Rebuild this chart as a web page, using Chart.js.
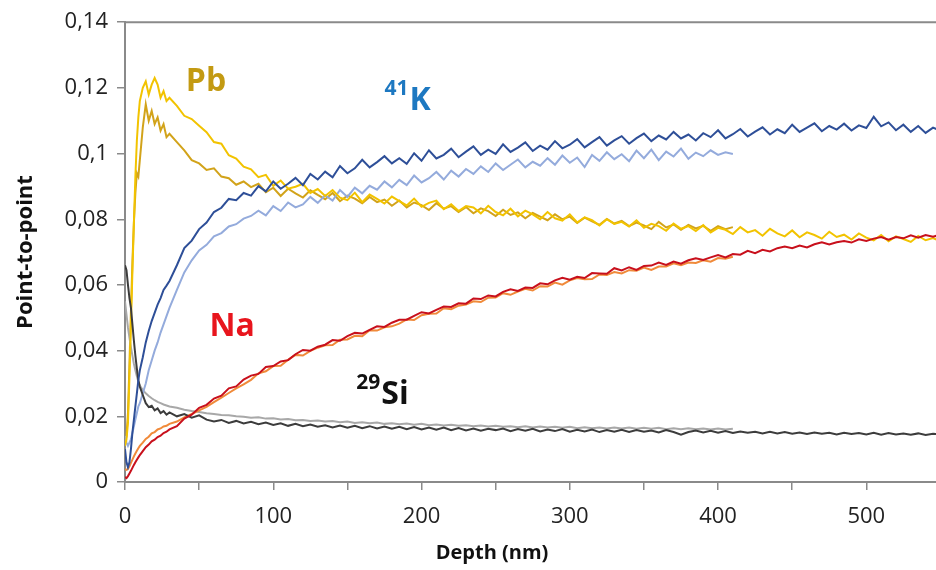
<!DOCTYPE html>
<html>
<head>
<meta charset="utf-8">
<script src="https://cdn.jsdelivr.net/npm/chart.js@4.4.1/dist/chart.umd.min.js"></script>
<style>
  body { margin: 0; background: #fff; }
</style>
</head>
<body>
<canvas id="chart" width="936" height="570"></canvas>
<script>
// depth in nm (fine steps near the surface, then every 5 nm)
const depth = [0, 1, 2, 3, 4, 5, 6, 7, 8, 9, 10, 12, 14, 16, 18, 20, 22, 24, 26, 28, 30,
  35, 40, 45, 50, 55, 60, 65, 70, 75, 80, 85, 90, 95, 100, 105, 110, 115, 120, 125, 130,
  135, 140, 145, 150, 155, 160, 165, 170, 175, 180, 185, 190, 195, 200, 205, 210, 215, 220, 225, 230,
  235, 240, 245, 250, 255, 260, 265, 270, 275, 280, 285, 290, 295, 300, 305, 310, 315, 320, 325, 330,
  335, 340, 345, 350, 355, 360, 365, 370, 375, 380, 385, 390, 395, 400, 405, 410, 415, 420, 425, 430,
  435, 440, 445, 450, 455, 460, 465, 470, 475, 480, 485, 490, 495, 500, 505, 510, 515, 520, 525, 530,
  535, 540, 545, 550];

// point-to-point values
const pbBright = [0.011, 0.013, 0.018, 0.032, 0.048, 0.064, 0.079, 0.093, 0.104, 0.111, 0.116, 0.120, 0.122, 0.118, 0.121, 0.123, 0.121, 0.117, 0.119, 0.116, 0.117,
  0.1145, 0.1115, 0.1105, 0.1085, 0.1065, 0.1035, 0.1030, 0.0995, 0.0985, 0.0960,
  0.0952, 0.0928, 0.0935, 0.0902, 0.0918, 0.0893, 0.0899, 0.0908, 0.0880, 0.0892,
  0.0871, 0.0889, 0.0866, 0.0858, 0.0881, 0.0852, 0.0875, 0.0862, 0.0848, 0.0869,
  0.0855, 0.0842, 0.0863, 0.0838, 0.0850, 0.0857, 0.0831, 0.0846, 0.0825, 0.0840,
  0.0836, 0.0818, 0.0841, 0.0822, 0.0812, 0.0832, 0.0809, 0.0826, 0.0815, 0.0800,
  0.0822, 0.0803, 0.0796, 0.0815, 0.0790, 0.0806, 0.0797, 0.0781, 0.0800, 0.0786,
  0.0792, 0.0778, 0.0797, 0.0774, 0.0786, 0.0779, 0.0765, 0.0787, 0.0771, 0.0779,
  0.0764, 0.0782, 0.0760, 0.0774, 0.0768, 0.0755, 0.0776, 0.0760, 0.0767, 0.0750,
  0.0771, 0.0757, 0.0748, 0.0766, 0.0745, 0.0760, 0.0752, 0.0741, 0.0762, 0.0746,
  0.0753, 0.0738, 0.0757, 0.0744, 0.0736, 0.0752, 0.0733, 0.0748, 0.0740, 0.0731,
  0.0749, 0.0736, 0.0743, 0.0733];

const pbDark = [0.012, 0.014, 0.021, 0.036, 0.052, 0.067, 0.079, 0.088, 0.094, 0.093, 0.098, 0.108, 0.115, 0.110, 0.113, 0.109, 0.111, 0.107, 0.109, 0.105, 0.106,
  0.1035, 0.1010, 0.0980, 0.0970, 0.0950, 0.0955, 0.0930, 0.0925, 0.0905, 0.0915,
  0.0898, 0.0908, 0.0882, 0.0896, 0.0871, 0.0893, 0.0879, 0.0866, 0.0888, 0.0874,
  0.0861, 0.0880, 0.0855, 0.0872, 0.0863, 0.0849, 0.0868, 0.0852, 0.0860, 0.0841,
  0.0857, 0.0836, 0.0851, 0.0843, 0.0828, 0.0849, 0.0832, 0.0840, 0.0822, 0.0837,
  0.0818, 0.0833, 0.0825, 0.0810, 0.0829, 0.0813, 0.0821, 0.0803, 0.0819, 0.0808,
  0.0797, 0.0815, 0.0800, 0.0808, 0.0789, 0.0805, 0.0794, 0.0783, 0.0801, 0.0787,
  0.0795, 0.0779, 0.0790, 0.0781, 0.0770, 0.0792, 0.0775, 0.0784, 0.0768, 0.0783,
  0.0772, 0.0780, 0.0765, 0.0779, 0.0770, 0.0776];

const kDark = [0.0100, 0.0060, 0.0045, 0.0060, 0.0100, 0.0150, 0.0190, 0.0230, 0.0270, 0.0310, 0.0340, 0.0380, 0.0425, 0.0460, 0.0490, 0.0515, 0.0540, 0.0560, 0.0585, 0.0598, 0.0612,
  0.0660, 0.0712, 0.0735, 0.0770, 0.0790, 0.0822, 0.0835, 0.0862, 0.0858, 0.0880,
  0.0872, 0.0901, 0.0885, 0.0915, 0.0893, 0.0908, 0.0926, 0.0904, 0.0938, 0.0921,
  0.0945, 0.0928, 0.0962, 0.0940, 0.0955, 0.0981, 0.0958, 0.0974, 0.0992, 0.0970,
  0.0986, 0.0969, 0.1001, 0.0978, 0.1010, 0.0985, 0.0996, 0.1015, 0.0989, 0.1006,
  0.1022, 0.0996, 0.1012, 0.0999, 0.1028, 0.1005, 0.1018, 0.1034, 0.1008, 0.1024,
  0.1012, 0.1038, 0.1016, 0.1027, 0.1044, 0.1019, 0.1035, 0.1050, 0.1024, 0.1040,
  0.1053, 0.1030, 0.1047, 0.1061, 0.1038, 0.1055, 0.1043, 0.1066, 0.1046, 0.1058,
  0.1040, 0.1062, 0.1050, 0.1071, 0.1046, 0.1059, 0.1075, 0.1052, 0.1067, 0.1080,
  0.1058, 0.1074, 0.1062, 0.1088, 0.1066, 0.1079, 0.1092, 0.1068, 0.1084, 0.1073,
  0.1091, 0.1070, 0.1086, 0.1078, 0.1112, 0.1083, 0.1095, 0.1071, 0.1088, 0.1066,
  0.1084, 0.1063, 0.1079, 0.1070];

const kLight = [0.0140, 0.0120, 0.0110, 0.0120, 0.0130, 0.0150, 0.0170, 0.0190, 0.0210, 0.0230, 0.0240, 0.0270, 0.0300, 0.0340, 0.0370, 0.0400, 0.0425, 0.0455, 0.0480, 0.0505, 0.0530,
  0.0585, 0.0638, 0.0675, 0.0705, 0.0722, 0.0748, 0.0758, 0.0778, 0.0785, 0.0802,
  0.0810, 0.0826, 0.0812, 0.0840, 0.0825, 0.0851, 0.0836, 0.0845, 0.0868, 0.0850,
  0.0873, 0.0857, 0.0889, 0.0868, 0.0896, 0.0879, 0.0902, 0.0890, 0.0915, 0.0897,
  0.0920, 0.0904, 0.0933, 0.0912, 0.0925, 0.0944, 0.0921, 0.0948, 0.0930, 0.0953,
  0.0938, 0.0961, 0.0944, 0.0970, 0.0950, 0.0966, 0.0982, 0.0958, 0.0975, 0.0963,
  0.0986, 0.0966, 0.0994, 0.0972, 0.0988, 0.0959, 0.0996, 0.0978, 0.1004, 0.0983,
  0.0998, 0.0977, 0.1009, 0.0986, 0.1012, 0.0980, 0.1006, 0.0991, 0.1015, 0.0984,
  0.1003, 0.0992, 0.1010, 0.0996, 0.1004, 0.0999];

const naRed = [0.0015, 0.0012, 0.0018, 0.0026, 0.0034, 0.0043, 0.0052, 0.0060, 0.0068, 0.0075, 0.0082, 0.0094, 0.0106, 0.0114, 0.0124, 0.0129, 0.0137, 0.0141, 0.0149, 0.0153, 0.0160,
  0.0170, 0.0193, 0.0205, 0.0226, 0.0235, 0.0254, 0.0263, 0.0285, 0.0291, 0.0312,
  0.0324, 0.0329, 0.0350, 0.0353, 0.0367, 0.0371, 0.0389, 0.0402, 0.0400, 0.0412,
  0.0418, 0.0432, 0.0430, 0.0444, 0.0454, 0.0452, 0.0463, 0.0474, 0.0472, 0.0485,
  0.0494, 0.0494, 0.0506, 0.0517, 0.0513, 0.0524, 0.0534, 0.0533, 0.0544, 0.0543,
  0.0559, 0.0557, 0.0568, 0.0565, 0.0579, 0.0587, 0.0582, 0.0592, 0.0591, 0.0605,
  0.0602, 0.0614, 0.0622, 0.0616, 0.0625, 0.0621, 0.0636, 0.0635, 0.0634, 0.0651,
  0.0644, 0.0654, 0.0646, 0.0658, 0.0659, 0.0668, 0.0661, 0.0671, 0.0665, 0.0675,
  0.0681, 0.0676, 0.0684, 0.0691, 0.0684, 0.0694, 0.0692, 0.0704, 0.0697, 0.0707,
  0.0702, 0.0712, 0.0717, 0.0712, 0.0720, 0.0714, 0.0724, 0.0730, 0.0723, 0.0730,
  0.0734, 0.0729, 0.0739, 0.0734, 0.0741, 0.0746, 0.0738, 0.0746, 0.0742, 0.0751,
  0.0744, 0.0752, 0.0747, 0.0753];

const naOrange = [0.0038, 0.0037, 0.0040, 0.0048, 0.0058, 0.0068, 0.0078, 0.0087, 0.0095, 0.0103, 0.0110, 0.0120, 0.0131, 0.0138, 0.0148, 0.0152, 0.0160, 0.0163, 0.0169, 0.0171, 0.0177,
  0.0184, 0.0197, 0.0207, 0.0218, 0.0229, 0.0243, 0.0257, 0.0271, 0.0285, 0.0297,
  0.0311, 0.0331, 0.0337, 0.0353, 0.0354, 0.0372, 0.0387, 0.0385, 0.0399, 0.0409,
  0.0416, 0.0417, 0.0433, 0.0434, 0.0445, 0.0444, 0.0462, 0.0461, 0.0471, 0.0474,
  0.0482, 0.0495, 0.0493, 0.0508, 0.0512, 0.0513, 0.0529, 0.0526, 0.0537, 0.0540,
  0.0550, 0.0548, 0.0561, 0.0562, 0.0575, 0.0570, 0.0580, 0.0588, 0.0583, 0.0596,
  0.0595, 0.0607, 0.0601, 0.0614, 0.0621, 0.0617, 0.0618, 0.0632, 0.0630, 0.0639,
  0.0635, 0.0645, 0.0643, 0.0653, 0.0646, 0.0656, 0.0656, 0.0666, 0.0660, 0.0668,
  0.0667, 0.0675, 0.0671, 0.0682, 0.0680, 0.0686];

const siDark = [0.0660, 0.0645, 0.0600, 0.0560, 0.0530, 0.0480, 0.0430, 0.0385, 0.0345, 0.0310, 0.0290, 0.0265, 0.0240, 0.0228, 0.0232, 0.0218, 0.0224, 0.0210, 0.0216, 0.0205, 0.0212,
  0.0200, 0.0207, 0.0196, 0.0203, 0.0190, 0.0184, 0.0189, 0.0180, 0.0186, 0.0178,
  0.0183, 0.0176, 0.0181, 0.0174, 0.0179, 0.0171, 0.0177, 0.0170, 0.0175, 0.0168,
  0.0173, 0.0166, 0.0172, 0.0165, 0.0171, 0.0164, 0.0170, 0.0163, 0.0169, 0.0162,
  0.0168, 0.0161, 0.0167, 0.0160, 0.0166, 0.0159, 0.0166, 0.0158, 0.0164, 0.0157,
  0.0163, 0.0156, 0.0162, 0.0158, 0.0163, 0.0155, 0.0161, 0.0156, 0.0162, 0.0154,
  0.0160, 0.0155, 0.0161, 0.0153, 0.0159, 0.0154, 0.0160, 0.0152, 0.0158, 0.0153,
  0.0159, 0.0152, 0.0158, 0.0153, 0.0157, 0.0151, 0.0158, 0.0152, 0.0144, 0.0152,
  0.0157, 0.0151, 0.0156, 0.0150, 0.0155, 0.0149, 0.0154, 0.0150, 0.0153, 0.0148,
  0.0153, 0.0148, 0.0152, 0.0147, 0.0151, 0.0146, 0.0151, 0.0147, 0.0150, 0.0145,
  0.0150, 0.0146, 0.0149, 0.0145, 0.0150, 0.0144, 0.0149, 0.0145, 0.0148, 0.0144,
  0.0148, 0.0143, 0.0147, 0.0144];

const siLight = [0.0550, 0.0510, 0.0470, 0.0440, 0.0410, 0.0385, 0.0360, 0.0340, 0.0322, 0.0306, 0.0294, 0.0280, 0.0270, 0.0262, 0.0255, 0.0249, 0.0244, 0.0240, 0.0236, 0.0233, 0.0230,
  0.0226, 0.0220, 0.0216, 0.0213, 0.0209, 0.0207, 0.0204, 0.0203, 0.0200, 0.0199,
  0.0196, 0.0197, 0.0193, 0.0194, 0.0190, 0.0192, 0.0188, 0.0189, 0.0186, 0.0187,
  0.0184, 0.0186, 0.0182, 0.0184, 0.0180, 0.0182, 0.0179, 0.0181, 0.0177, 0.0179,
  0.0176, 0.0178, 0.0174, 0.0177, 0.0173, 0.0175, 0.0172, 0.0174, 0.0171, 0.0173,
  0.0170, 0.0172, 0.0169, 0.0171, 0.0168, 0.0170, 0.0167, 0.0170, 0.0166, 0.0169,
  0.0166, 0.0168, 0.0165, 0.0168, 0.0164, 0.0167, 0.0164, 0.0166, 0.0163, 0.0166,
  0.0163, 0.0166, 0.0162, 0.0165, 0.0162, 0.0165, 0.0161, 0.0164, 0.0161, 0.0164,
  0.0161, 0.0163, 0.0160, 0.0163, 0.0160, 0.0162];

// element labels written on the plot (position in data units)
const notes = [
  { sup: '', main: 'Pb', d: 41, v: 0.1191, color: '#c39a12' },
  { sup: '41', main: 'K', d: 175, v: 0.1133, color: '#1d78c1' },
  { sup: '', main: 'Na', d: 57, v: 0.0445, color: '#e8151d' },
  { sup: '29', main: 'Si', d: 156, v: 0.0236, color: '#111111' },
];

const pts = (ys) => ys.map((y, i) => ({ x: depth[i], y: y }));

const frame = {
  id: 'frame',
  afterDraw(chart) {
    const { ctx, chartArea, scales } = chart;
    ctx.save();
    // top border of the plot
    ctx.strokeStyle = '#8a8a8a';
    ctx.lineWidth = 2;
    ctx.beginPath();
    ctx.moveTo(chartArea.left - 1, chartArea.top);
    ctx.lineTo(chartArea.right, chartArea.top);
    ctx.stroke();

    // axis titles
    ctx.fillStyle = '#111';
    ctx.textAlign = 'center';
    ctx.textBaseline = 'middle';
    ctx.font = 'bold 20px "Open Sans"';
    ctx.fillText('Depth (nm)', 492, 553);
    ctx.font = 'bold 22px "Open Sans"';
    ctx.translate(26, 252);
    ctx.rotate(-Math.PI / 2);
    ctx.fillText('Point-to-point', 0, 0);
    ctx.setTransform(1, 0, 0, 1, 0, 0);

    // element labels
    ctx.textAlign = 'left';
    ctx.textBaseline = 'alphabetic';
    notes.forEach(n => {
      let x = scales.x.getPixelForValue(n.d);
      const y = scales.y.getPixelForValue(n.v);
      ctx.fillStyle = n.color;
      if (n.sup) {
        ctx.font = 'bold 21px "Open Sans"';
        ctx.fillText(n.sup, x, y - 15);
        x += ctx.measureText(n.sup).width + 1;
      }
      ctx.font = 'bold 32px "Open Sans"';
      ctx.fillText(n.main, x, y);
    });
    ctx.restore();
  }
};

const line = (data, color) => ({
  data: pts(data), borderColor: color, borderWidth: 2, pointRadius: 0, fill: false
});

new Chart(document.getElementById('chart'), {
  type: 'line',
  data: {
    // first dataset is painted on top
    datasets: [
      line(naRed, '#c8101c'),
      line(kDark, '#2e4f98'),
      line(siDark, '#3c3c3c'),
      line(pbBright, '#f2c300'),
      line(naOrange, '#f08a3a'),
      line(kLight, '#94abdc'),
      line(siLight, '#a8a8a8'),
      line(pbDark, '#d2a31a'),
    ],
  },
  options: {
    responsive: false,
    animation: false,
    devicePixelRatio: 1,
    layout: { padding: { top: 20, right: 0, left: 0, bottom: 0 } },
    plugins: { legend: { display: false }, tooltip: { enabled: false } },
    scales: {
      x: {
        type: 'linear',
        min: 0,
        max: 547,
        afterFit: (s) => { s.height = 88; },
        border: { color: '#8a8a8a', width: 2 },
        grid: { drawOnChartArea: false, drawTicks: true, tickLength: 8, color: '#8a8a8a', lineWidth: 1.5 },
        ticks: {
          stepSize: 50,
          includeBounds: false,
          autoSkip: false,
          maxRotation: 0,
          padding: 14,
          color: '#222',
          font: { family: 'Open Sans', size: 22 },
          callback: (v) => (v % 100 === 0 ? String(v) : ''),
        },
      },
      y: {
        min: 0,
        max: 0.14,
        afterFit: (s) => { s.width = 125; },
        border: { color: '#8a8a8a', width: 2 },
        grid: { drawOnChartArea: false, drawTicks: true, tickLength: 8, color: '#8a8a8a', lineWidth: 1.5 },
        ticks: {
          stepSize: 0.02,
          padding: 9,
          color: '#222',
          font: { family: 'Open Sans', size: 22 },
          callback: (v) => String(Math.round(v * 100) / 100).replace('.', ','),
        },
      },
    },
  },
  plugins: [frame],
});
</script>
</body>
</html>
